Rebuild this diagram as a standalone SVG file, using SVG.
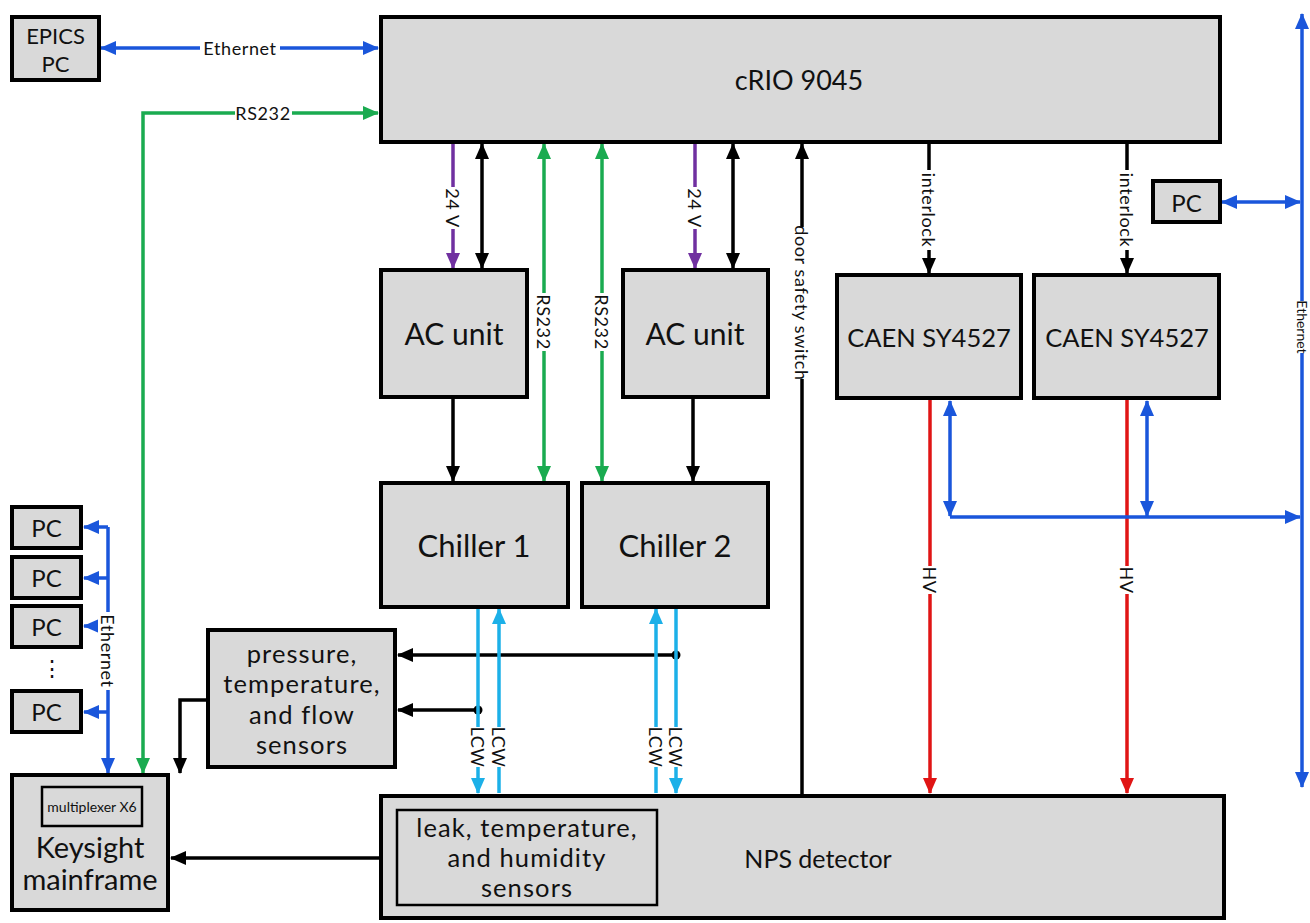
<svg xmlns="http://www.w3.org/2000/svg" width="1310" height="923" viewBox="0 0 1310 923">
<style>
.box{fill:#d9d9d9;stroke:#000;stroke-width:4}
.inner{fill:#d9d9d9;stroke:#000;stroke-width:2.5}
text{font-family:Lato,"Liberation Sans",sans-serif;fill:#111;text-anchor:middle;dominant-baseline:central}
.lbl{font-size:18px;letter-spacing:0.6px}
.bg{fill:#fff}
.c{fill:none;stroke-width:3.5}
.bl{stroke:#1a56db}
.gr{stroke:#1aab50}
.pu{stroke:#7030a0}
.rd{stroke:#e01515}
.lb{stroke:#1cb0e8}
.k{stroke:#000}
.ml{font-size:25.5px;letter-spacing:1.1px}
</style>
<defs>
<marker id="aB" markerUnits="userSpaceOnUse" markerWidth="16" markerHeight="16" refX="15" refY="8" orient="auto-start-reverse" viewBox="0 0 16 16"><path d="M0,1 L16,8 L0,15 z" fill="#1a56db"/></marker>
<marker id="aG" markerUnits="userSpaceOnUse" markerWidth="16" markerHeight="16" refX="15" refY="8" orient="auto-start-reverse" viewBox="0 0 16 16"><path d="M0,1 L16,8 L0,15 z" fill="#1aab50"/></marker>
<marker id="aP" markerUnits="userSpaceOnUse" markerWidth="16" markerHeight="16" refX="15" refY="8" orient="auto-start-reverse" viewBox="0 0 16 16"><path d="M0,1 L16,8 L0,15 z" fill="#7030a0"/></marker>
<marker id="aR" markerUnits="userSpaceOnUse" markerWidth="16" markerHeight="16" refX="15" refY="8" orient="auto-start-reverse" viewBox="0 0 16 16"><path d="M0,1 L16,8 L0,15 z" fill="#e01515"/></marker>
<marker id="aL" markerUnits="userSpaceOnUse" markerWidth="16" markerHeight="16" refX="15" refY="8" orient="auto-start-reverse" viewBox="0 0 16 16"><path d="M0,1 L16,8 L0,15 z" fill="#1cb0e8"/></marker>
<marker id="aK" markerUnits="userSpaceOnUse" markerWidth="16" markerHeight="16" refX="15" refY="8" orient="auto-start-reverse" viewBox="0 0 16 16"><path d="M0,1 L16,8 L0,15 z" fill="#000"/></marker>
</defs>

<g id="connectors">
<path class="c bl" d="M101,48 H378" marker-start="url(#aB)" marker-end="url(#aB)"/>
<path class="c gr" d="M143,773 V113 H378" marker-start="url(#aG)" marker-end="url(#aG)"/>
<path class="c pu" d="M453,144 V268" marker-end="url(#aP)"/>
<path class="c k" d="M482,144 V268" marker-start="url(#aK)" marker-end="url(#aK)"/>
<path class="c gr" d="M544,144 V481" marker-start="url(#aG)" marker-end="url(#aG)"/>
<path class="c gr" d="M602,144 V481" marker-start="url(#aG)" marker-end="url(#aG)"/>
<path class="c pu" d="M695,144 V268" marker-end="url(#aP)"/>
<path class="c k" d="M733,144 V268" marker-start="url(#aK)" marker-end="url(#aK)"/>
<path class="c k" d="M453,399 V481" marker-end="url(#aK)"/>
<path class="c k" d="M693,399 V481" marker-end="url(#aK)"/>
<path class="c k" d="M802,795 V144" marker-end="url(#aK)"/>
<path class="c k" d="M929,144 V273" marker-end="url(#aK)"/>
<path class="c k" d="M1127,144 V273" marker-end="url(#aK)"/>
<path class="c rd" d="M930,400 V793" marker-end="url(#aR)"/>
<path class="c rd" d="M1127,400 V793" marker-end="url(#aR)"/>
<path class="c bl" d="M950,401 V516" marker-start="url(#aB)" marker-end="url(#aB)"/>
<path class="c bl" d="M1147,401 V516" marker-start="url(#aB)" marker-end="url(#aB)"/>
<path class="c bl" d="M950,517 H1300" marker-end="url(#aB)"/>
<path class="c bl" d="M1222,202 H1300" marker-start="url(#aB)" marker-end="url(#aB)"/>
<path class="c bl" d="M1302,787 V14" marker-start="url(#aB)" marker-end="url(#aB)"/>
<path class="c bl" d="M108,527 V773" marker-end="url(#aB)"/>
<path class="c bl" d="M108,527 H84" marker-end="url(#aB)"/>
<path class="c bl" d="M108,578 H84" marker-end="url(#aB)"/>
<path class="c bl" d="M108,626 H84" marker-end="url(#aB)"/>
<path class="c bl" d="M108,712 H84" marker-end="url(#aB)"/>
<path class="c k" d="M208,700 H180 V773" marker-end="url(#aK)"/>
<path class="c k" d="M676,655 H398" marker-end="url(#aK)"/>
<path class="c k" d="M478,710 H398" marker-end="url(#aK)"/>
<circle cx="676" cy="655" r="4.5" fill="#000"/>
<circle cx="478" cy="710" r="4.5" fill="#000"/>
<path class="c lb" d="M478,609 V793" marker-end="url(#aL)"/>
<path class="c lb" d="M499,793 V609" marker-end="url(#aL)"/>
<path class="c lb" d="M656,793 V609" marker-end="url(#aL)"/>
<path class="c lb" d="M676,609 V793" marker-end="url(#aL)"/>
<path class="c k" d="M397,858 H171" marker-end="url(#aK)"/>

<!-- labels -->
<rect class="bg" x="200" y="38" width="80" height="20"/><text class="lbl" x="240" y="48">Ethernet</text>
<rect class="bg" x="235" y="103" width="57" height="20"/><text class="lbl" x="263" y="113">RS232</text>
<g transform="translate(453,208) rotate(90)"><rect class="bg" x="-21" y="-10" width="42" height="20"/><text class="lbl" x="0" y="0">24 V</text></g>
<g transform="translate(695,208) rotate(90)"><rect class="bg" x="-21" y="-10" width="42" height="20"/><text class="lbl" x="0" y="0">24 V</text></g>
<g transform="translate(544,322) rotate(90)"><rect class="bg" x="-29" y="-10" width="58" height="20"/><text class="lbl" x="0" y="0">RS232</text></g>
<g transform="translate(602,322) rotate(90)"><rect class="bg" x="-29" y="-10" width="58" height="20"/><text class="lbl" x="0" y="0">RS232</text></g>
<g transform="translate(802,303) rotate(90)"><rect class="bg" x="-76" y="-10" width="152" height="20"/><text class="lbl" x="0" y="0">door safety switch</text></g>
<g transform="translate(929,210) rotate(90)"><rect class="bg" x="-40" y="-10" width="80" height="20"/><text class="lbl" x="0" y="0">interlock</text></g>
<g transform="translate(1127,210) rotate(90)"><rect class="bg" x="-40" y="-10" width="80" height="20"/><text class="lbl" x="0" y="0">interlock</text></g>
<g transform="translate(930,580) rotate(90)"><rect class="bg" x="-14" y="-10" width="28" height="20"/><text class="lbl" x="0" y="0">HV</text></g>
<g transform="translate(1127,580) rotate(90)"><rect class="bg" x="-14" y="-10" width="28" height="20"/><text class="lbl" x="0" y="0">HV</text></g>
<g transform="translate(478,747) rotate(90)"><rect class="bg" x="-20" y="-10" width="40" height="20"/><text class="lbl" x="0" y="0">LCW</text></g>
<g transform="translate(499,747) rotate(90)"><rect class="bg" x="-20" y="-10" width="40" height="20"/><text class="lbl" x="0" y="0">LCW</text></g>
<g transform="translate(656,747) rotate(90)"><rect class="bg" x="-20" y="-10" width="40" height="20"/><text class="lbl" x="0" y="0">LCW</text></g>
<g transform="translate(676,747) rotate(90)"><rect class="bg" x="-20" y="-10" width="40" height="20"/><text class="lbl" x="0" y="0">LCW</text></g>
<g transform="translate(108,651) rotate(90)"><rect class="bg" x="-39" y="-10" width="78" height="20"/><text class="lbl" x="0" y="0">Ethernet</text></g>
<g transform="translate(1302,327) rotate(90)"><rect class="bg" x="-26" y="-9" width="52" height="18"/><text x="0" y="0" font-size="14">Ethernet</text></g>
</g>

<g id="epics-pc"><rect class="box" x="12" y="17" width="87" height="63"/><text x="55.5" y="35" font-size="22">EPICS</text><text x="55.5" y="63" font-size="22">PC</text></g>
<g id="crio"><rect class="box" x="381" y="17" width="839" height="125"/><text x="799" y="79" font-size="27">cRIO 9045</text></g>
<g id="ac1"><rect class="box" x="381" y="270" width="146" height="127"/><text x="454" y="333" font-size="30">AC unit</text></g>
<g id="ac2"><rect class="box" x="623" y="270" width="145" height="127"/><text x="695" y="333" font-size="30">AC unit</text></g>
<g id="chiller1"><rect class="box" x="381" y="483" width="187" height="124"/><text x="474" y="545" font-size="31">Chiller 1</text></g>
<g id="chiller2"><rect class="box" x="582" y="483" width="186" height="124"/><text x="675" y="545" font-size="31">Chiller 2</text></g>
<g id="caen1"><rect class="box" x="837" y="275" width="184" height="123"/><text x="929" y="337" font-size="25.5">CAEN SY4527</text></g>
<g id="caen2"><rect class="box" x="1034" y="275" width="185" height="123"/><text x="1127" y="337" font-size="25.5">CAEN SY4527</text></g>
<g id="pc-right"><rect class="box" x="1153" y="181" width="67" height="41"/><text x="1186.5" y="202" font-size="24">PC</text></g>
<g id="pc1"><rect class="box" x="12" y="507" width="69" height="41"/><text x="46.5" y="527.5" font-size="24">PC</text></g>
<g id="pc2"><rect class="box" x="12" y="557" width="69" height="41"/><text x="46.5" y="577.5" font-size="24">PC</text></g>
<g id="pc3"><rect class="box" x="12" y="606" width="69" height="41"/><text x="46.5" y="626.5" font-size="24">PC</text></g>
<text x="52" y="667" font-size="22">⋮</text>
<g id="pc4"><rect class="box" x="12" y="691" width="69" height="41"/><text x="46.5" y="711.5" font-size="24">PC</text></g>
<g id="sensors"><rect class="box" x="208" y="630" width="187" height="137"/>
<text class="ml" x="302" y="653">pressure,</text><text class="ml" x="302" y="683">temperature,</text><text class="ml" x="302" y="714">and flow</text><text class="ml" x="302" y="744">sensors</text></g>
<g id="keysight"><rect class="box" x="12" y="775" width="156" height="135"/><rect class="inner" x="42" y="787" width="100" height="39"/><text x="92" y="806.5" font-size="14">multiplexer X6</text>
<text x="90" y="846" font-size="29">Keysight</text><text x="90" y="878" font-size="29">mainframe</text></g>
<g id="nps"><rect class="box" x="381" y="796" width="843" height="122"/><text x="818" y="858" font-size="25">NPS detector</text>
<rect class="inner" x="397" y="810" width="260" height="95"/>
<text class="ml" x="527" y="827">leak, temperature,</text><text class="ml" x="527" y="857">and humidity</text><text class="ml" x="527" y="887">sensors</text></g>
</svg>
